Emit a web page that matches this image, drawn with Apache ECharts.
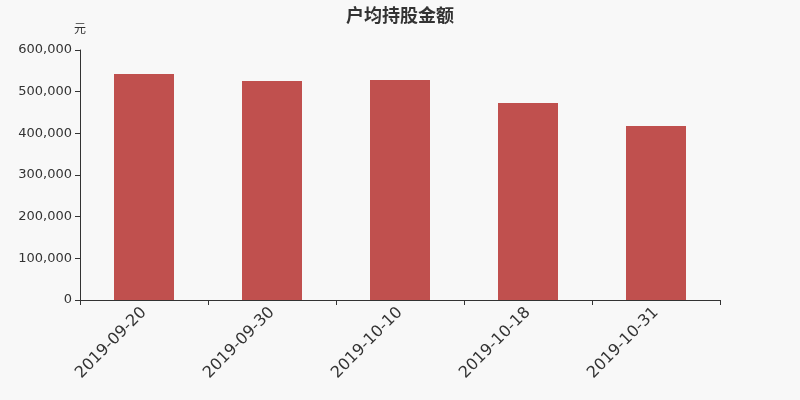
<!DOCTYPE html>
<html>
<head>
<meta charset="utf-8">
<script src="https://cdn.jsdelivr.net/npm/echarts@6/dist/echarts.min.js"></script>
<style>
  html, body { margin: 0; padding: 0; background: #f8f8f8; }
  #main { width: 800px; height: 400px; }
</style>
</head>
<body>
<div id="main"></div>
<script>
const dates = ['2019-09-20', '2019-09-30', '2019-10-10', '2019-10-18', '2019-10-31']
const avgHolding = [542400, 525600, 528000, 472800, 417600]

const font = 'DejaVu Sans, Noto Sans CJK SC, sans-serif'

const chart = echarts.init(document.getElementById('main'))
chart.setOption({
  backgroundColor: '#f8f8f8',
  animation: false,
  textStyle: { fontFamily: font },
  title: {
    text: '户均持股金额',
    left: 'center',
    top: 3,
    textStyle: { fontSize: 18, fontWeight: 'bold', color: '#333', fontFamily: font }
  },
  grid: { left: 80, right: 80, top: 50, bottom: 100 },
  xAxis: {
    type: 'category',
    data: dates,
    axisLine: { lineStyle: { color: '#333' } },
    axisTick: { show: true, lineStyle: { color: '#333' } },
    axisLabel: { rotate: 45, fontSize: 16, color: '#333', margin: 10, fontFamily: font }
  },
  yAxis: {
    type: 'value',
    name: '元',
    nameGap: 14,
    nameTextStyle: { color: '#333', fontSize: 12, fontFamily: font },
    min: 0,
    max: 600000,
    interval: 100000,
    splitLine: { show: false },
    axisLine: { show: true, lineStyle: { color: '#333' } },
    axisTick: { show: true, lineStyle: { color: '#333' } },
    axisLabel: {
      color: '#333',
      fontSize: 13,
      fontFamily: font,
      formatter: v => v.toLocaleString('en-US')
    }
  },
  series: [{
    type: 'bar',
    data: avgHolding,
    barWidth: 60,
    itemStyle: { color: '#c0504e' }
  }]
})
</script>
</body>
</html>
